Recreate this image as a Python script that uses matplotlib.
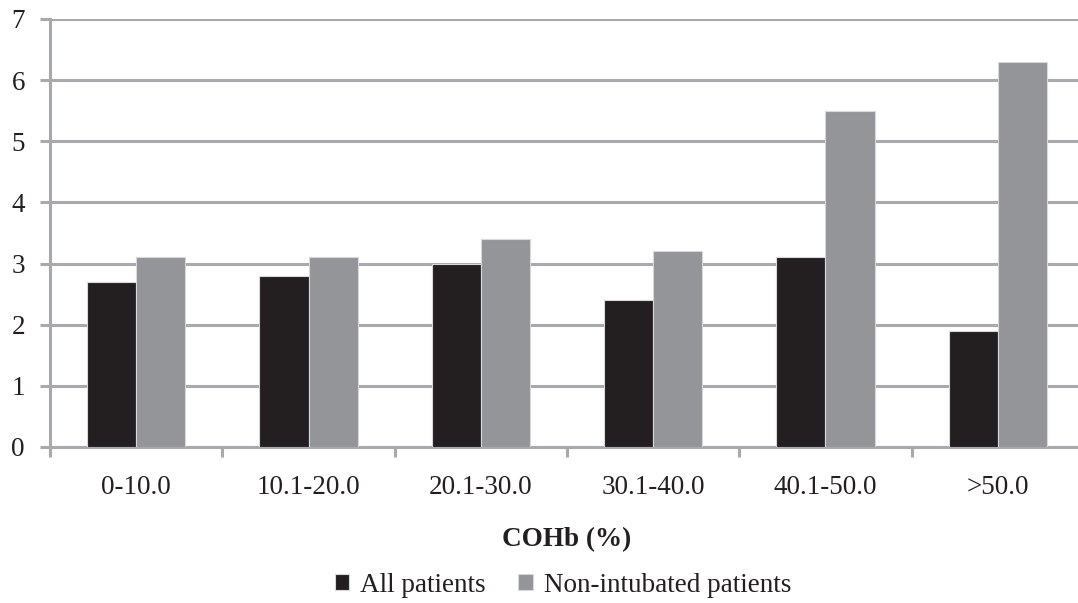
import numpy as np
import matplotlib.pyplot as plt
from matplotlib.ticker import FixedLocator

categories = ['0-10.0', '10.1-20.0', '20.1-30.0', '30.1-40.0', '40.1-50.0', '>50.0']
all_patients = [2.7, 2.8, 3.0, 2.4, 3.1, 1.9]
non_intubated = [3.1, 3.1, 3.4, 3.2, 5.5, 6.3]
series_names = ['All patients', 'Non-intubated patients']

plt.rcParams['font.family'] = ['Liberation Serif', 'DejaVu Serif']

grid_col = '#a7a9ac'
fs = 19.5
fig = plt.figure(figsize=(10.78, 6.03), dpi=100)
ax = fig.add_axes([50 / 1078, 1 - 447 / 603, 1034 / 1078, (447 - 19) / 603])

x = np.arange(len(categories))
w = 0.285
ax.bar(x - w / 2, all_patients, w, color='#231f20', edgecolor='#d8d8d8', linewidth=0.8,
       label=series_names[0], zorder=3)
ax.bar(x + w / 2, non_intubated, w, color='#939598', edgecolor='#d8d8d8', linewidth=0.8,
       label=series_names[1], zorder=3)

ax.set_xlim(-0.5, len(categories) - 0.5)
ax.set_ylim(0, 7)
ax.set_yticks(range(8))
ax.yaxis.grid(True, color=grid_col, linewidth=2.2)
ax.set_axisbelow(True)

ax.set_xticks(x)
ax.set_xticklabels(categories)
ax.xaxis.set_minor_locator(FixedLocator(np.arange(-0.5, len(categories), 1.0)))
ax.tick_params(axis='x', which='major', length=0, pad=20, labelsize=fs, colors='#231f20')
ax.tick_params(axis='x', which='minor', length=7, width=2.2, color=grid_col)
ax.tick_params(axis='y', length=7, width=2.2, color=grid_col, pad=11, labelsize=fs,
               labelcolor='#231f20')

for side in ['top', 'right']:
    ax.spines[side].set_visible(False)
for side in ['left', 'bottom']:
    ax.spines[side].set_color(grid_col)
    ax.spines[side].set_linewidth(2.2)

fig.text(567 / 1078, 1 - 540 / 603, 'COHb (%)', ha='center', va='center',
         fontsize=fs, fontweight='bold', color='#231f20')

fig.legend(loc='center', bbox_to_anchor=(563 / 1078, 1 - 585 / 603), ncol=2, frameon=False,
           fontsize=fs, handlelength=0.55, handleheight=0.55, handletextpad=0.4,
           columnspacing=1.2, labelcolor='#231f20')

fig.savefig('out.png', dpi=100)
